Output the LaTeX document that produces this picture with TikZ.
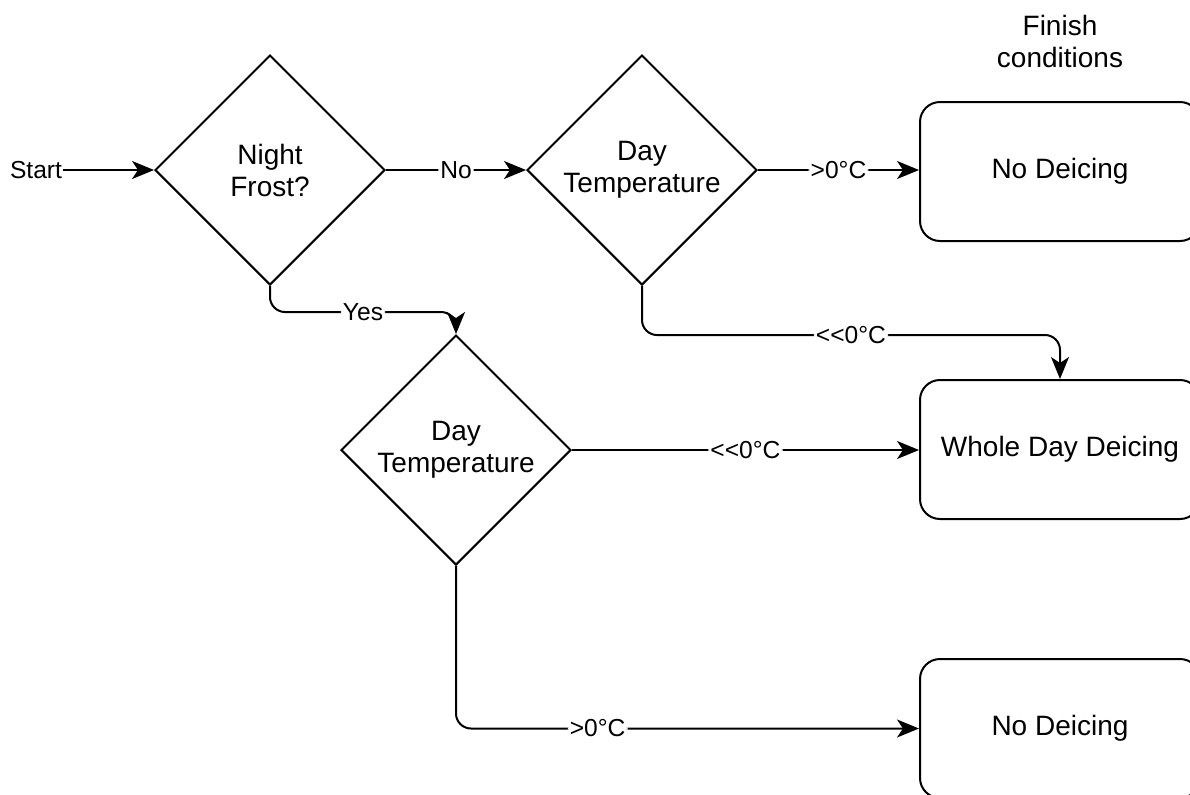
\documentclass[tikz,border=0pt]{standalone}
\usepackage{fontspec}
\setmainfont{Liberation Sans}
\usetikzlibrary{shapes.geometric,arrows.meta}
\begin{document}
\begin{tikzpicture}[x=0.5pt,y=-0.5pt,
  nodefont/.style={font=\fontsize{14}{16}\selectfont},
  decision/.style={diamond,draw,line width=1pt,aspect=1,minimum width=115pt,
    minimum height=115pt,inner sep=0pt,align=center,nodefont},
  outcome/.style={rectangle,draw,line width=1pt,rounded corners=10pt,
    minimum width=140pt,minimum height=69.5pt,align=center,nodefont},
  flow/.style={line width=1pt,rounded corners=7.5pt,
    -{Stealth[length=11pt,width=9pt,inset=3pt]}},
  lbl/.style={fill=white,inner sep=1pt,font=\fontsize{12.3}{14}\selectfont}
]
\useasboundingbox (0,0) rectangle (1190,794);
\clip (0,0) rectangle (1190,794);

% decisions
\node[decision] (frost) at (270,170) {Night\\Frost?};
\node[decision] (dayA) at (642,170) {Day\\Temperature};
\node[decision] (dayB) at (456,450) {Day\\Temperature};

% finish conditions
\node[outcome] (none1) at (1060,171.5) {No Deicing};
\node[outcome] (whole) at (1060,449.5) {Whole Day Deicing};
\node[outcome] (none2) at (1060,728.5) {No Deicing};

\node[font=\fontsize{12.3}{14}\selectfont,inner sep=0.5pt] (start) at (36,170) {Start};
\node[align=center,nodefont] (finish) at (1060,41) {Finish\\conditions};

% connectors
\draw[flow] (start.east) -- (frost.west);
\draw[flow] (frost.east) -- node[lbl]{No} (dayA.west);
\draw[flow] (dayA.east) -- node[lbl]{>0°C} (dayA.east -| none1.west);
\draw[flow] (frost.south) -- ++(0,26) -| node[lbl,pos=0.25]{Yes} (dayB.north);
\draw[flow] (dayA.south) -- ++(0,49) -| node[lbl,pos=0.25]{<{}<0°C} (whole.north);
\draw[flow] (dayB.east) -- node[lbl]{<{}<0°C} (dayB.east -| whole.west);
\draw[flow] (dayB.south) |- node[lbl,pos=0.653]{>0°C} (none2.west);
\end{tikzpicture}
\end{document}
